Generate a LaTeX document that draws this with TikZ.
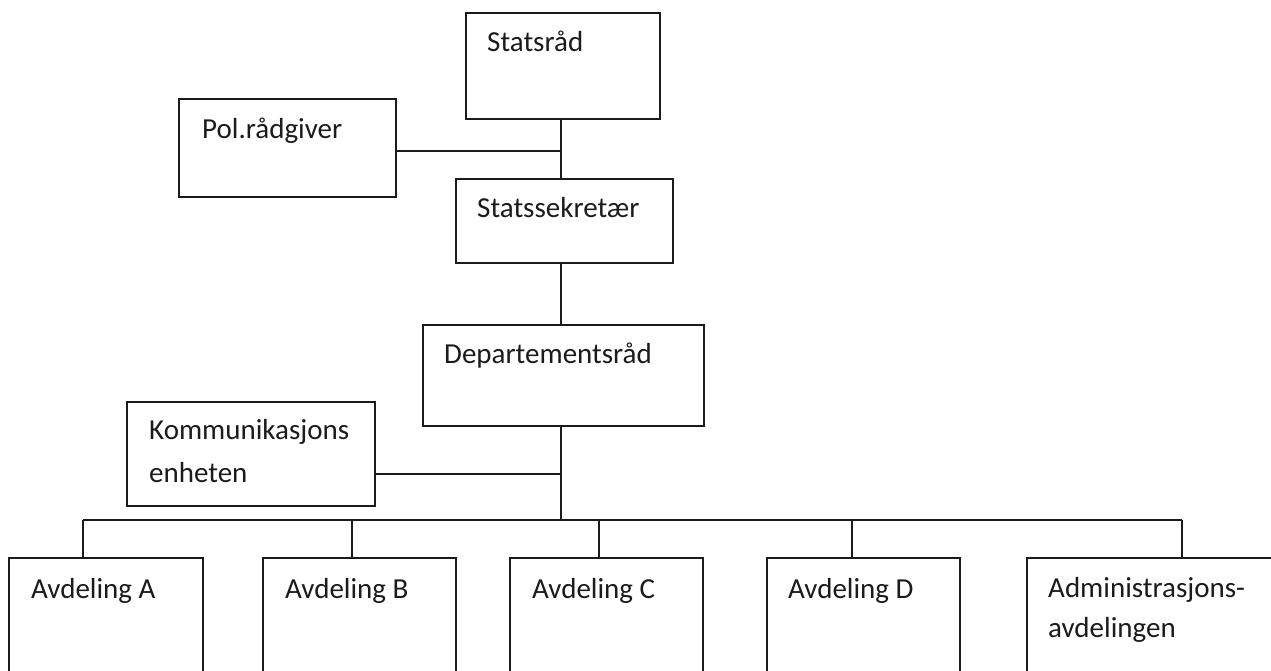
\documentclass[tikz,border=0pt]{standalone}
\usepackage{fontspec}
\setmainfont{Carlito}
\usetikzlibrary{calc}
\definecolor{ink}{HTML}{1A1C1C}
\begin{document}
\begin{tikzpicture}[x=1pt,y=-1pt,
  unit/.style={draw=ink,line width=1.7pt,rectangle,inner sep=0pt,outer sep=0pt},
  caption/.style={anchor=base west,inner sep=0pt,text=ink,align=left,
    font=\fontsize{29}{43}\selectfont},
  link/.style={draw=ink,line width=1.7pt}]
\clip (0,0) rectangle (1271,671);
\fill[white] (0,0) rectangle (1271,671);

% box helper: name, left, top, right, bottom
\newcommand{\unitbox}[5]{%
  \node[unit,minimum width={#4-#2},minimum height={#5-#3}]
    (#1) at ({(#2+#4)/2},{(#3+#5)/2}) {};}

\unitbox{stat}{466}{13}{660}{119}
\unitbox{pol}{179}{99}{396}{197}
\unitbox{sek}{456}{179}{673}{263}
\unitbox{dep}{423}{325}{704}{426}
\unitbox{kom}{127}{402}{375}{506}
\unitbox{avdA}{9}{558}{203}{700}
\unitbox{avdB}{263}{558}{456}{700}
\unitbox{avdC}{510}{558}{703}{700}
\unitbox{avdD}{767}{558}{960}{700}
\unitbox{adm}{1027}{558}{1300}{700}

% labels, set at the top left of each box
\node[caption] (tstat) at ($(stat.north west)+(21,39)$) {Statsråd};
\node[caption] (tpol)  at ($(pol.north west)+(23,40)$) {Pol.rådgiver};
\node[caption] (tsek)  at ($(sek.north west)+(21,39)$) {Statssekretær};
\node[caption] (tdep)  at ($(dep.north west)+(21,38)$) {Departementsråd};
\node[caption] (tkom)  at ($(kom.north west)+(22,37)$) {Kommunikasjons};
\node[caption] (tkom2) at ($(kom.north west)+(22,80)$) {enheten};
\node[caption] (tA)    at ($(avdA.north west)+(22,40)$) {Avdeling A};
\node[caption] (tB)    at ($(avdB.north west)+(22,40)$) {Avdeling B};
\node[caption] (tC)    at ($(avdC.north west)+(22,40)$) {Avdeling C};
\node[caption] (tD)    at ($(avdD.north west)+(21,40)$) {Avdeling D};
\node[caption] (tadm)  at ($(adm.north west)+(21,39)$) {Administrasjons-};
\node[caption] (tadm2) at ($(adm.north west)+(21,79)$) {avdelingen};

% vertical line of command and the horizontal bus
\coordinate (spine) at (561,0);
\coordinate (dA) at (83,520);
\coordinate (dB) at (352,520);
\coordinate (dC) at (599,520);
\coordinate (dD) at (852,520);
\coordinate (dE) at (1182,520);

\draw[link] (stat.south -| spine) -- (sek.north -| spine);
\draw[link] (sek.south -| spine) -- (dep.north -| spine);
\draw[link] (dep.south -| spine) -- (dA -| spine);
\draw[link] ($(pol.east)+(0,3)$) -- ($(pol.east -| spine)+(0,3)$);
\draw[link] ($(kom.east)+(0,20)$) -- ($(kom.east -| spine)+(0,20)$);

\draw[link] (dA) -- (dE);
\draw[link] (dA) -- (dA |- avdA.north);
\draw[link] (dB) -- (dB |- avdB.north);
\draw[link] (dC) -- (dC |- avdC.north);
\draw[link] (dD) -- (dD |- avdD.north);
\draw[link] (dE) -- (dE |- adm.north);
\end{tikzpicture}
\end{document}
